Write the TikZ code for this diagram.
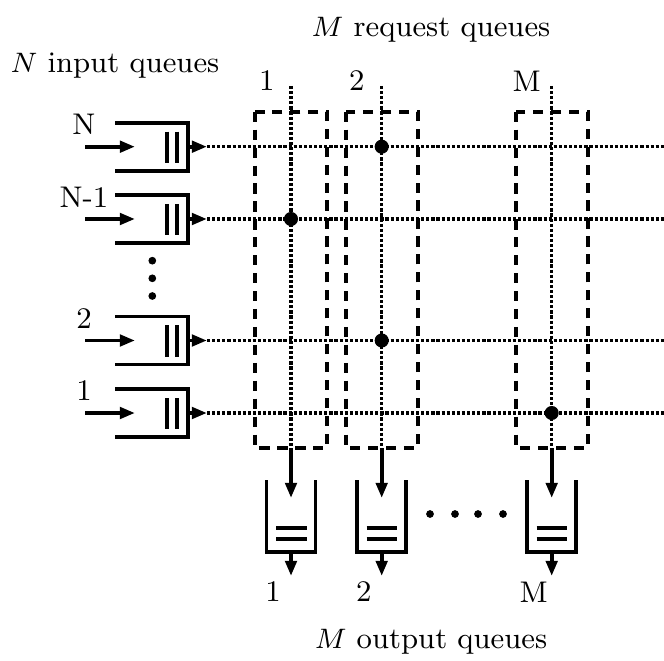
\documentclass[tikz,border=0pt]{standalone}
\usetikzlibrary{arrows.meta}
\begin{document}
\begin{tikzpicture}[x=0.01cm,y=-0.01cm,
  every node/.style={inner sep=0pt,font=\fontsize{8.5}{10}\selectfont},
  qline/.style={line width=1.1pt},
  arr/.style={qline,-{Triangle[length=4.3pt,width=3.2pt]}},
  dotl/.style={line width=0.95pt,dash pattern=on 0.9pt off 0.55pt},
  dbox/.style={line width=1.05pt,dash pattern=on 2.9pt off 2.2pt},
  hub/.style={fill=black}]
\useasboundingbox (0,0) rectangle (664,661);
% titles
\node (tin) at (115,66) {$N$ input queues};
\node (treq) at (431,30) {$M$ request queues};
\node (tout) at (431,642) {$M$ output queues};
% input queues
\foreach \nm/\y/\lab in {qN/146.7/N, qNm/219/N-1, qtwo/340.5/2, qone/413/1}{
  \coordinate (\nm-in) at (85,\y);
  \coordinate (\nm-ie) at (135,\y);
  \coordinate (\nm-o) at (188,\y);
  \coordinate (\nm-oe) at (207,\y);
  \coordinate (\nm-end) at (664,\y);
  \draw[qline] (115,\y-24) -- (188,\y-24) -- (188,\y+24) -- (115,\y+24);
  \draw[qline] (166.7,\y-15) -- (166.7,\y+16);
  \draw[qline] (176.7,\y-15) -- (176.7,\y+16);
  \draw[arr] (\nm-in) -- (\nm-ie);
  \draw[arr] (\nm-o) -- (\nm-oe);
  \draw[dotl] (\nm-oe) -- (\nm-end);
  \node (\nm-l) at (84,\y-22) {\lab};
}
% vertical ellipsis
\foreach \yy [count=\i] in {260.7,278.3,296}{
  \fill (152.3,\yy) circle[radius=1.1pt];
}
% request columns
\foreach \nm/\x/\lab/\lx in {cone/291/1/266.7, ctwo/381.7/2/356.7, cM/551.7/M/526.7}{
  \draw[dbox] (\x-36,111.7) rectangle (\x+36,448);
  \coordinate (\nm-top) at (\x,86);
  \coordinate (\nm-bot) at (\x,448);
  \coordinate (\nm-arr) at (\x,498);
  \draw[dotl] (\nm-top) -- (\nm-bot);
  \draw[arr] (\nm-bot) -- (\nm-arr);
  \node (\nm-l) at (\lx,81) {\lab};
  % output queue
  \draw[qline] (\x-24.5,480) -- (\x-24.5,552) -- (\x+24.5,552) -- (\x+24.5,480);
  \draw[qline] (\x-15,527.7) -- (\x+15.5,527.7);
  \draw[qline] (\x-15,539.3) -- (\x+15.5,539.3);
  \coordinate (\nm-ob) at (\x,552);
  \coordinate (\nm-oe) at (\x,576);
  \draw[arr] (\nm-ob) -- (\nm-oe);
  \node (\nm-ol) at (\x-18,592) {\lab};
}
% horizontal ellipsis
\foreach \xx in {430,455,478,503}{
  \fill (\xx,514) circle[radius=1.1pt];
}
% crosspoints
\fill[hub] (ctwo-top |- qN-o) circle[radius=2pt];
\fill[hub] (cone-top |- qNm-o) circle[radius=2pt];
\fill[hub] (ctwo-top |- qtwo-o) circle[radius=2pt];
\fill[hub] (cM-top |- qone-o) circle[radius=2pt];
\end{tikzpicture}
\end{document}
